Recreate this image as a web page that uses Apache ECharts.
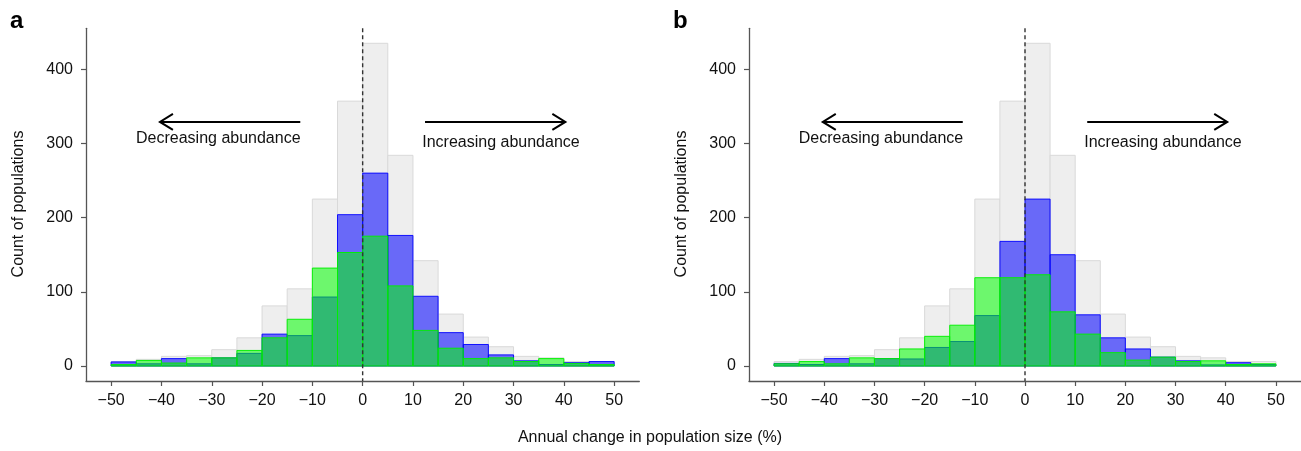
<!DOCTYPE html>
<html>
<head>
<meta charset="utf-8">
<script src="https://cdn.jsdelivr.net/npm/echarts@6/dist/echarts.min.js"></script>
<style>html,body{margin:0;padding:0;background:#fff}#c{width:1301px;height:451px}</style>
</head>
<body>
<div id="c"></div>
<script>
// Histogram bin left edges (%), bin width 5
const binStarts = [-50,-45,-40,-35,-30,-25,-20,-15,-10,-5,0,5,10,15,20,25,30,35,40,45];
const binWidth = 5;
// All populations (grey, same in both panels)
const allPops = [6, 9, 13, 14, 22, 38, 81, 104, 225, 357, 435, 284, 142, 70, 39, 26, 13, 11, 6, 6];
// Panel a
const blueA  = [5.5, 3, 10, 3, 11, 17, 43, 41, 93, 204, 260, 176, 94, 45, 29, 15, 7, 2, 4.5, 6];
const greenA = [2, 7.5, 4, 11, 11, 21, 38, 63, 132, 153, 175, 108, 48, 24, 10, 11, 6, 10, 3.5, 2];
// Panel b
const blueB  = [3.5, 2, 10, 3, 10, 9.5, 25, 33, 68, 168, 225, 150, 69, 38, 23, 12, 7, 1.5, 4.5, 2];
const greenB = [3, 6, 3, 11, 10, 23, 40, 55, 119, 119, 123, 73, 43, 18, 8, 12, 6, 7, 2, 3];
// Tick labels
const xTicks = [-50,-40,-30,-20,-10,0,10,20,30,40,50];
const yTicks = [0,100,200,300,400];
// Annotations: [fromX, toX, y] arrows and [x, y, text] labels
const arrows = [[-12.4, -40.3, 329], [12.4, 40.3, 329]];
const labels = [[-28.7, 306, 'Decreasing abundance'], [27.5, 300.5, 'Increasing abundance']];

const X_MIN = -55, X_MAX = 55, Y_MIN = -20.2, Y_MAX = 455.2;
const FONT = '"Liberation Sans", Arial, Helvetica, sans-serif';
const chart = echarts.init(document.getElementById('c'), null, {renderer: 'canvas'});

function histData(vals) { return binStarts.map((b, i) => [b, b + binWidth, vals[i]]); }

function histSeries(idx, vals, fill, stroke, z) {
  return {
    type: 'custom', xAxisIndex: idx, yAxisIndex: idx, z: z, silent: true,
    data: histData(vals),
    renderItem: function (params, api) {
      const p0 = api.coord([api.value(0), 0]);
      const p1 = api.coord([api.value(1), api.value(2)]);
      return {
        type: 'rect',
        shape: {x: p0[0], y: p1[1], width: p1[0] - p0[0], height: p0[1] - p1[1]},
        style: {fill: fill, stroke: stroke, lineWidth: 1}
      };
    }
  };
}

function annotSeries(idx) {
  return [{
    type: 'custom', xAxisIndex: idx, yAxisIndex: idx, z: 20, silent: true,
    data: arrows,
    renderItem: function (params, api) {
      const a = api.coord([api.value(0), api.value(2)]);
      const b = api.coord([api.value(1), api.value(2)]);
      const dir = b[0] > a[0] ? 1 : -1;
      return {
        type: 'group', children: [
          {type: 'line', shape: {x1: a[0], y1: a[1], x2: b[0], y2: b[1]}, style: {stroke: '#000', lineWidth: 2}},
          {type: 'polyline', shape: {points: [[b[0] - dir * 13, b[1] - 8], [b[0], b[1]], [b[0] - dir * 13, b[1] + 8]]},
            style: {stroke: '#000', lineWidth: 2, fill: null}}
        ]
      };
    }
  }, {
    type: 'custom', xAxisIndex: idx, yAxisIndex: idx, z: 20, silent: true,
    data: labels,
    renderItem: function (params, api) {
      const p = api.coord([api.value(0), api.value(1)]);
      return {
        type: 'text', x: p[0], y: p[1],
        style: {text: labels[params.dataIndex][2], fill: '#111', font: '16px ' + FONT, align: 'center', verticalAlign: 'middle'}
      };
    }
  }];
}

function zeroLine(idx) {
  return {
    type: 'custom', xAxisIndex: idx, yAxisIndex: idx, z: 15, silent: true,
    data: [[0]],
    renderItem: function (params, api) {
      const a = api.coord([api.value(0), Y_MAX]);
      const b = api.coord([api.value(0), Y_MIN]);
      return {type: 'line', shape: {x1: a[0], y1: a[1], x2: b[0], y2: b[1]},
        style: {stroke: '#333', lineWidth: 1.4, lineDash: [4, 3]}};
    }
  };
}

const grids = [
  {left: 86, top: 28.3, width: 553.3, height: 352.7},
  {left: 749, top: 28.3, width: 553.3, height: 352.7}
];

function xAxis(idx) {
  return {
    type: 'value', gridIndex: idx, min: X_MIN, max: X_MAX,
    axisLine: {show: true, onZero: false, lineStyle: {color: '#555', width: 1.3}},
    axisTick: {show: true, length: 5, customValues: xTicks, lineStyle: {color: '#555', width: 1.2}},
    axisLabel: {customValues: xTicks, margin: 12, fontSize: 16, fontFamily: FONT, color: '#111',
      formatter: v => (v < 0 ? '\u2212' + Math.abs(v) : String(v))},
    splitLine: {show: false}
  };
}
function yAxis(idx) {
  return {
    type: 'value', gridIndex: idx, min: Y_MIN, max: Y_MAX,
    axisLine: {show: true, onZero: false, lineStyle: {color: '#555', width: 1.3}},
    axisTick: {show: true, length: 5, customValues: yTicks, lineStyle: {color: '#555', width: 1.2}},
    axisLabel: {customValues: yTicks, margin: 13, fontSize: 16, fontFamily: FONT, color: '#111'},
    splitLine: {show: false}
  };
}

const GREY_FILL = '#eeeeee', GREY_STROKE = '#d9d9d9';
const BLUE_FILL = 'rgba(0,0,255,0.56)', BLUE_STROKE = 'rgba(0,0,255,0.9)';
const GREEN_FILL = 'rgba(0,255,0,0.54)', GREEN_STROKE = 'rgba(0,240,0,0.95)';

const series = [
  histSeries(0, allPops, GREY_FILL, GREY_STROKE, 1),
  histSeries(0, blueA, BLUE_FILL, BLUE_STROKE, 2),
  histSeries(0, greenA, GREEN_FILL, GREEN_STROKE, 3),
  zeroLine(0),
  ...annotSeries(0),
  histSeries(1, allPops, GREY_FILL, GREY_STROKE, 1),
  histSeries(1, blueB, BLUE_FILL, BLUE_STROKE, 2),
  histSeries(1, greenB, GREEN_FILL, GREEN_STROKE, 3),
  zeroLine(1),
  ...annotSeries(1)
];

chart.setOption({
  animation: false,
  backgroundColor: '#fff',
  grid: grids,
  xAxis: [xAxis(0), xAxis(1)],
  yAxis: [yAxis(0), yAxis(1)],
  series: series,
  graphic: [
    {type: 'text', left: 10, top: 9, style: {text: 'a', font: 'bold 24px ' + FONT, fill: '#000'}},
    {type: 'text', left: 673, top: 9, style: {text: 'b', font: 'bold 24px ' + FONT, fill: '#000'}},
    {type: 'text', x: 19, y: 204, rotation: Math.PI / 2,
      style: {text: 'Count of populations', font: '16px ' + FONT, fill: '#111', align: 'center', verticalAlign: 'middle'}},
    {type: 'text', x: 682, y: 204, rotation: Math.PI / 2,
      style: {text: 'Count of populations', font: '16px ' + FONT, fill: '#111', align: 'center', verticalAlign: 'middle'}},
    {type: 'text', x: 650, y: 438,
      style: {text: 'Annual change in population size (%)', font: '16px ' + FONT, fill: '#111', align: 'center', verticalAlign: 'middle'}}
  ]
});
</script>
</body>
</html>
